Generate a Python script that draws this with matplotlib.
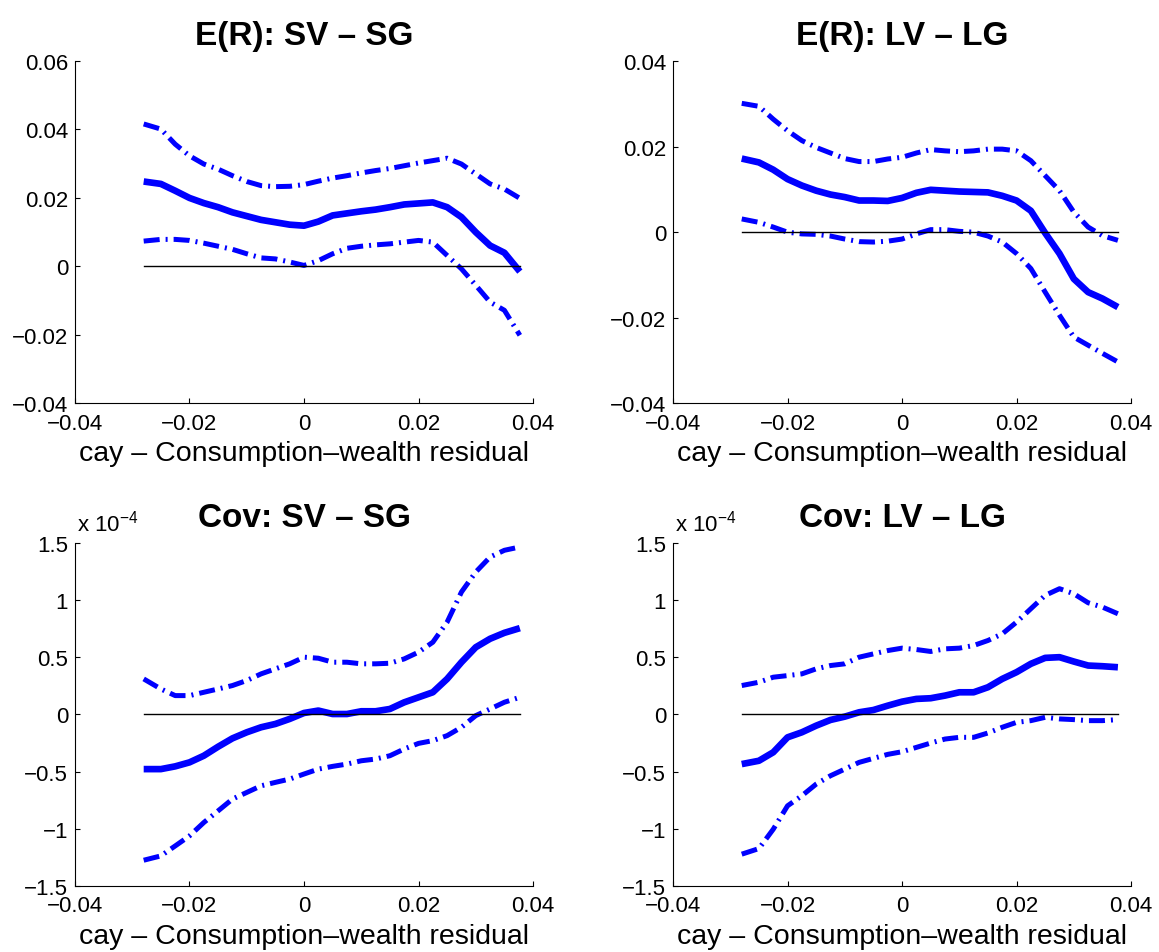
import matplotlib as mpl
from matplotlib import pyplot as plt
from matplotlib.ticker import FuncFormatter

mpl.rcParams['font.family'] = ['Liberation Sans', 'DejaVu Sans']
mpl.rcParams['mathtext.default'] = 'regular'
mpl.rcParams['axes.unicode_minus'] = True

# cay grid (consumption-wealth residual)
cay = [-0.028, -0.025, -0.0225, -0.02, -0.0175, -0.015, -0.0125, -0.01, -0.0075,
       -0.005, -0.0025, 0.0, 0.0025, 0.005, 0.0075, 0.01, 0.0125, 0.015, 0.0175,
       0.02, 0.0225, 0.025, 0.0275, 0.03, 0.0325, 0.035, 0.0377]

# E(R): SV - SG
er_s_mean = [0.0248, 0.0241, 0.0221, 0.0200, 0.0185, 0.0173, 0.0158, 0.0147, 0.0136,
             0.0129, 0.0122, 0.0119, 0.0131, 0.0149, 0.0155, 0.0161, 0.0166, 0.0173,
             0.0181, 0.0184, 0.0187, 0.0173, 0.0144, 0.0100, 0.0061, 0.0040, -0.0015]
er_s_upper = [0.0416, 0.0401, 0.0357, 0.0323, 0.0299, 0.0284, 0.0265, 0.0248, 0.0236,
              0.0233, 0.0234, 0.0239, 0.0249, 0.0258, 0.0265, 0.0273, 0.0280, 0.0286,
              0.0294, 0.0302, 0.0309, 0.0316, 0.0299, 0.0270, 0.0241, 0.0226, 0.0199]
er_s_lower = [0.0074, 0.0079, 0.0079, 0.0076, 0.0068, 0.0059, 0.0050, 0.0037, 0.0025,
              0.0022, 0.0013, 0.0003, 0.0017, 0.0037, 0.0053, 0.0059, 0.0063, 0.0066,
              0.0071, 0.0076, 0.0071, 0.0032, -0.0007, -0.0055, -0.0104, -0.0128, -0.0201]

# E(R): LV - LG
er_l_mean = [0.0172, 0.0163, 0.0146, 0.0124, 0.0109, 0.0097, 0.0088, 0.0082, 0.0074,
             0.0074, 0.0073, 0.0080, 0.0092, 0.0099, 0.0097, 0.0095, 0.0094, 0.0093,
             0.0085, 0.0074, 0.0050, -0.0002, -0.0050, -0.0109, -0.0140, -0.0155, -0.0175]
er_l_upper = [0.0301, 0.0294, 0.0264, 0.0237, 0.0214, 0.0198, 0.0185, 0.0172, 0.0165,
              0.0165, 0.0171, 0.0175, 0.0185, 0.0193, 0.0190, 0.0188, 0.0190, 0.0194,
              0.0194, 0.0190, 0.0167, 0.0132, 0.0097, 0.0047, 0.0012, -0.0008, -0.0019]
er_l_lower = [0.0031, 0.0023, 0.0012, 0.0000, -0.0004, -0.0005, -0.0009, -0.0016, -0.0022,
              -0.0023, -0.0021, -0.0016, -0.0004, 0.0006, 0.0006, 0.0002, 0.0000, -0.0009,
              -0.0023, -0.0050, -0.0085, -0.0140, -0.0194, -0.0245, -0.0264, -0.0283, -0.0303]

# Cov: SV - SG  (units of 1e-4)
cov_s_mean = [-0.478, -0.478, -0.454, -0.419, -0.361, -0.282, -0.209, -0.156, -0.112,
              -0.083, -0.039, 0.013, 0.034, 0.004, 0.004, 0.028, 0.028, 0.048,
              0.106, 0.150, 0.194, 0.311, 0.457, 0.588, 0.662, 0.714, 0.755]
cov_s_upper = [0.311, 0.223, 0.165, 0.165, 0.194, 0.223, 0.253, 0.297, 0.355,
               0.399, 0.443, 0.501, 0.492, 0.457, 0.457, 0.443, 0.443, 0.448,
               0.486, 0.545, 0.632, 0.808, 1.071, 1.246, 1.377, 1.436, 1.465]
cov_s_lower = [-1.275, -1.237, -1.150, -1.062, -0.945, -0.843, -0.740, -0.682, -0.624,
               -0.594, -0.565, -0.521, -0.478, -0.454, -0.434, -0.405, -0.390, -0.361,
               -0.302, -0.253, -0.229, -0.185, -0.112, -0.010, 0.048, 0.107, 0.150]

# Cov: LV - LG  (units of 1e-4)
cov_l_mean = [-0.434, -0.405, -0.331, -0.200, -0.156, -0.098, -0.048, -0.019, 0.019,
              0.039, 0.077, 0.112, 0.136, 0.142, 0.165, 0.194, 0.194, 0.238,
              0.311, 0.370, 0.443, 0.495, 0.501, 0.463, 0.428, 0.422, 0.413]
cov_l_upper = [0.253, 0.282, 0.326, 0.340, 0.355, 0.399, 0.428, 0.443, 0.501,
               0.530, 0.559, 0.580, 0.568, 0.551, 0.574, 0.580, 0.603, 0.647,
               0.705, 0.808, 0.925, 1.042, 1.100, 1.056, 0.977, 0.939, 0.881]
cov_l_lower = [-1.222, -1.173, -1.004, -0.799, -0.711, -0.609, -0.536, -0.478, -0.419,
               -0.384, -0.349, -0.326, -0.288, -0.250, -0.215, -0.200, -0.200, -0.162,
               -0.112, -0.069, -0.054, -0.025, -0.039, -0.045, -0.054, -0.054, -0.045]

panels = [
    ('E(R): SV \u2013 SG', er_s_mean, er_s_upper, er_s_lower, (-0.04, 0.06), 0.02, False),
    ('E(R): LV \u2013 LG', er_l_mean, er_l_upper, er_l_lower, (-0.04, 0.04), 0.02, False),
    ('Cov: SV \u2013 SG', cov_s_mean, cov_s_upper, cov_s_lower, (-1.5, 1.5), 0.5, True),
    ('Cov: LV \u2013 LG', cov_l_mean, cov_l_upper, cov_l_lower, (-1.5, 1.5), 0.5, True),
]

# axes boxes in figure fractions
boxes = [
    (0.0647, 0.5756, 0.3952, 0.3594),
    (0.5807, 0.5756, 0.3952, 0.3594),
    (0.0647, 0.0693, 0.3952, 0.3599),
    (0.5807, 0.0693, 0.3952, 0.3599),
]

blue = (0, 0, 1)
dashdot = (0, (3.2, 1.2, 0.4, 1.2))


def fmt(v, pos):
    s = f'{v:g}'
    if s in ('-0', '0'):
        return '0'
    return s.replace('-', '\u2212')


fig = plt.figure(figsize=(11.59, 9.53), dpi=100)

for (title, mean, upper, lower, ylim, ystep, scaled), box in zip(panels, boxes):
    ax = fig.add_axes(box)
    ax.plot(cay, upper, color=blue, lw=3.6, linestyle=dashdot, dash_capstyle='butt')
    ax.plot(cay, lower, color=blue, lw=3.6, linestyle=dashdot, dash_capstyle='butt')
    ax.plot(cay, mean, color=blue, lw=4.8, solid_capstyle='butt')
    ax.plot([cay[0], cay[-1]], [0, 0], color='black', lw=1.0, zorder=5)

    ax.set_xlim(-0.04, 0.04)
    ax.set_ylim(*ylim)
    ax.set_xticks([-0.04, -0.02, 0, 0.02, 0.04])
    n = int(round((ylim[1] - ylim[0]) / ystep))
    ax.set_yticks([ylim[0] + i * ystep for i in range(n + 1)])
    ax.xaxis.set_major_formatter(FuncFormatter(fmt))
    ax.yaxis.set_major_formatter(FuncFormatter(fmt))

    ax.spines['top'].set_visible(False)
    ax.spines['right'].set_visible(False)
    ax.spines['left'].set_linewidth(0.8)
    ax.spines['bottom'].set_linewidth(0.8)
    ax.tick_params(axis='both', direction='in', length=3.6, width=0.8, labelsize=16)
    ax.tick_params(axis='x', pad=6.8)
    ax.tick_params(axis='y', pad=5)

    ax.set_title(title, fontsize=24, fontweight='bold', pad=12)
    ax.set_xlabel('cay \u2013 Consumption\u2013wealth residual', fontsize=20.5, labelpad=4.5)
    if scaled:
        ax.text(0.005, 1.035, 'x 10$^{\u22124}$', transform=ax.transAxes,
                fontsize=16, ha='left', va='baseline')

fig.savefig('out.png', dpi=100)
